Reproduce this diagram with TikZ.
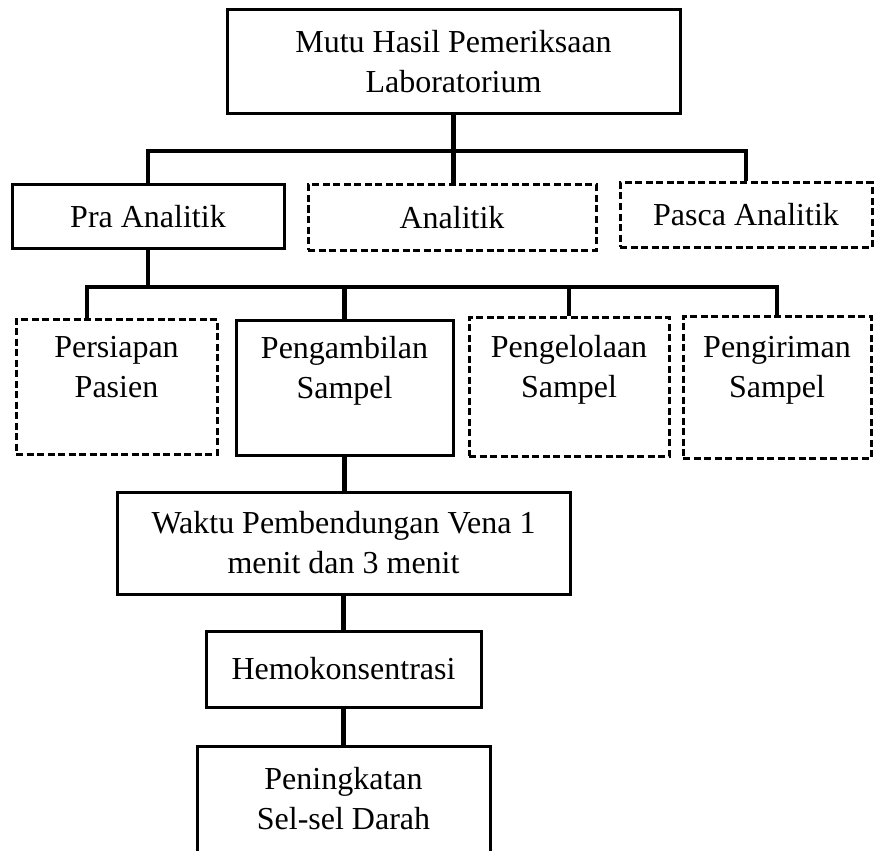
\documentclass[tikz,border=0pt]{standalone}
\usepackage{fontspec}
\setmainfont{Liberation Serif}
\usepackage{tikz}

\begin{document}
\begin{tikzpicture}[x=1pt, y=-1pt, font=\fontsize{32pt}{40pt}\selectfont,
        every node/.style={draw, line width=3pt, align=center, inner sep=0pt},
        dashbox/.style={dash pattern=on 7pt off 3.5pt},
        link/.style={line width=4.4pt}]
        \useasboundingbox (0,0) rectangle (874,850);
        \clip (0,0) rectangle (874,850);
        \node (mutu) [minimum width=453pt, minimum height=104pt] at (453.5,62) {Mutu Hasil Pemeriksaan\\Laboratorium};
        \node (pra) [minimum width=272pt, minimum height=63pt] at (148,216.5) {Pra Analitik};
        \node (ana) [dashbox, minimum width=288pt, minimum height=65pt] at (452,217.5) {Analitik};
        \node (pasca) [dashbox, minimum width=252pt, minimum height=64pt] at (746,215) {Pasca Analitik};
        \coordinate (j1) at (453.5,151);
        \draw[link] (pra.north) |- (j1) -| (pasca.north);
        \draw[link] (mutu.south) -- (mutu.south |- ana.north);
        \node (pers) [dashbox, minimum width=201pt, minimum height=135pt] at (116.5,386.5) {Persiapan\\Pasien\\\mbox{}};
        \node (peng) [minimum width=217pt, minimum height=135pt] at (344.5,387.5) {Pengambilan\\Sampel\\\mbox{}};
        \node (pengel) [dashbox, minimum width=200pt, minimum height=139pt] at (569,386.5) {Pengelolaan\\Sampel\\\mbox{}};
        \node (pengir) [dashbox, minimum width=188pt, minimum height=142pt] at (777,387) {Pengiriman\\Sampel\\\mbox{}};
        \coordinate (j2) at (148,287);
        \coordinate (d1) at (87,287);
        \draw[link] (pra.south) -- (j2);
        \draw[link] (pers.north -| d1) |- (j2) -| (pengir.north);
        \draw[link] (peng.north) -- (peng.north |- j2);
        \draw[link] (pengel.north) -- (pengel.north |- j2);
        \node (waktu) [minimum width=453pt, minimum height=102pt] at (343.5,543) {Waktu Pembendungan Vena 1\\menit dan 3 menit};
        \node (hemo) [minimum width=275pt, minimum height=76pt] at (343.5,669) {Hemokonsentrasi};
        \node (pen) [minimum width=293pt, minimum height=106pt] at (343.5,799) {Peningkatan\\Sel-sel Darah};
        \draw[link] (peng.south) -- (peng.south |- waktu.north);
        \draw[link] (waktu.south) -- (hemo.north);
        \draw[link] (hemo.south) -- (pen.north);
    \end{tikzpicture}
\end{document}
